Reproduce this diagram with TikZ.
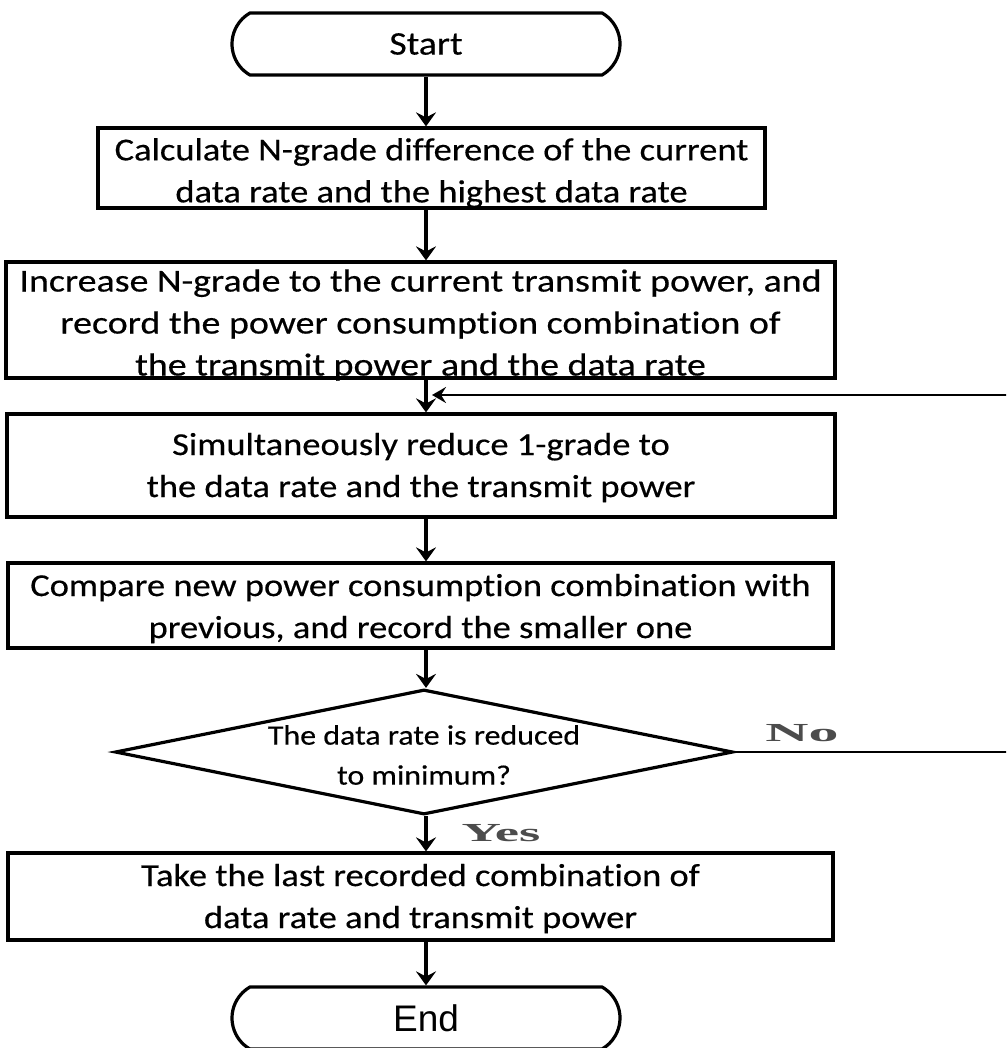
\documentclass[tikz,border=0pt]{standalone}
\usepackage{fontspec}
\setmainfont[FakeStretch=1.14, FakeBold=0.4, Ligatures=NoCommon]{Carlito}
\newfontfamily\endfont{Liberation Sans}
\newfontfamily\ynfont{Liberation Serif}
\usetikzlibrary{shapes.geometric,shapes.misc,arrows.meta}

\begin{document}
\begin{tikzpicture}[x=0.5pt,y=-0.5pt,
  stepbox/.style={draw, line width=1.6pt, rectangle, inner sep=0pt},
  txt/.style={align=center, inner sep=0pt, font=\fontsize{16}{21}\selectfont},
  term/.style={draw, line width=1.6pt, rounded rectangle, rounded rectangle arc length=120,
    minimum width=194pt, minimum height=31pt, inner sep=0pt},
  decision/.style={draw, line width=1.6pt, diamond, minimum width=309pt, minimum height=62.5pt, inner sep=0pt},
  dtext/.style={align=center, inner sep=0pt, font=\fontsize{14}{20}\selectfont},
  yn/.style={inner sep=0pt, text=black!70, font=\ynfont\bfseries\fontsize{13}{13}\selectfont},
  arr/.style={line width=1.6pt, -{Stealth[length=7pt,width=10pt,inset=2.5pt]}},
  fb/.style={line width=1.3pt, -{Stealth[length=7pt,width=8pt,inset=2.5pt]}}
]
\clip (0,0) rectangle (1006,1048);
\fill[white] (0,0) rectangle (1006,1048);

\coordinate (axis) at (426,0);

\node[term, font=\fontsize{16.5}{20}\selectfont] (start) at (426,44) {Start};

\node[stepbox, minimum width=333.5pt, minimum height=40pt] (b1) at (431.5,168) {};
\node[txt] (t1) at ([yshift=-2.5pt]b1.center)
  {Calculate N-grade difference of the current\\data rate and the highest data rate};

\node[stepbox, minimum width=414.5pt, minimum height=58pt] (b2) at (420.5,320) {};
\node[txt] (t2) at ([yshift=-2.5pt]b2.center)
  {\scalebox{1.04}[1]{Increase N-grade to the current transmit power, and}\\\scalebox{1.04}[1]{record the power consumption combination of}\\\scalebox{1.04}[1]{the transmit power and the data rate}};

\node[stepbox, minimum width=414pt, minimum height=51.5pt] (b3) at (421,465.5) {};
\node[txt] (t3) at ([yshift=-1pt]b3.center)
  {Simultaneously reduce 1-grade to\\the data rate and the transmit power};

\node[stepbox, minimum width=412.5pt, minimum height=42.5pt] (b4) at (420.5,605.5) {};
\node[txt] (t4) at ([yshift=-1.5pt]b4.center)
  {Compare new power consumption combination with\\previous, and record the smaller one};

\node[decision] (dec) at (424,752) {};
\node[dtext] (dectext) at (424,755) {The data rate is reduced\\to minimum?};

\node[stepbox, minimum width=412.5pt, minimum height=43.5pt] (b5) at (420.5,896.5) {};
\node[txt] (t5) at ([yshift=-1pt]b5.center)
  {Take the last recorded combination of\\data rate and transmit power};

\node[term, font=\endfont\fontsize{18.5}{20}\selectfont] (end) at (426,1018) {End};

\node[yn] (no) at (802,733) {\scalebox{2.3}[1]{No}};
\node[yn] (yes) at (501,833) {\scalebox{2.1}[1]{Yes}};

\coordinate (merge) at (426,395);
\coordinate (fbx) at (1030,0);

\draw[arr] (start.south -| axis) -- (b1.north -| axis);
\draw[arr] (b1.south -| axis) -- (b2.north -| axis);
\draw[arr] (b2.south -| axis) -- (b3.north -| axis);
\draw[arr] (b3.south -| axis) -- (b4.north -| axis);
\draw[arr] (b4.south -| axis) -- (dec.north -| axis);
\draw[arr] (dec.south -| axis) -- (b5.north -| axis);
\draw[arr] (b5.south -| axis) -- (end.north -| axis);
\draw[fb, shorten >=3pt] (dec.east) -- (dec.east -| fbx) |- (merge);
\end{tikzpicture}
\end{document}
